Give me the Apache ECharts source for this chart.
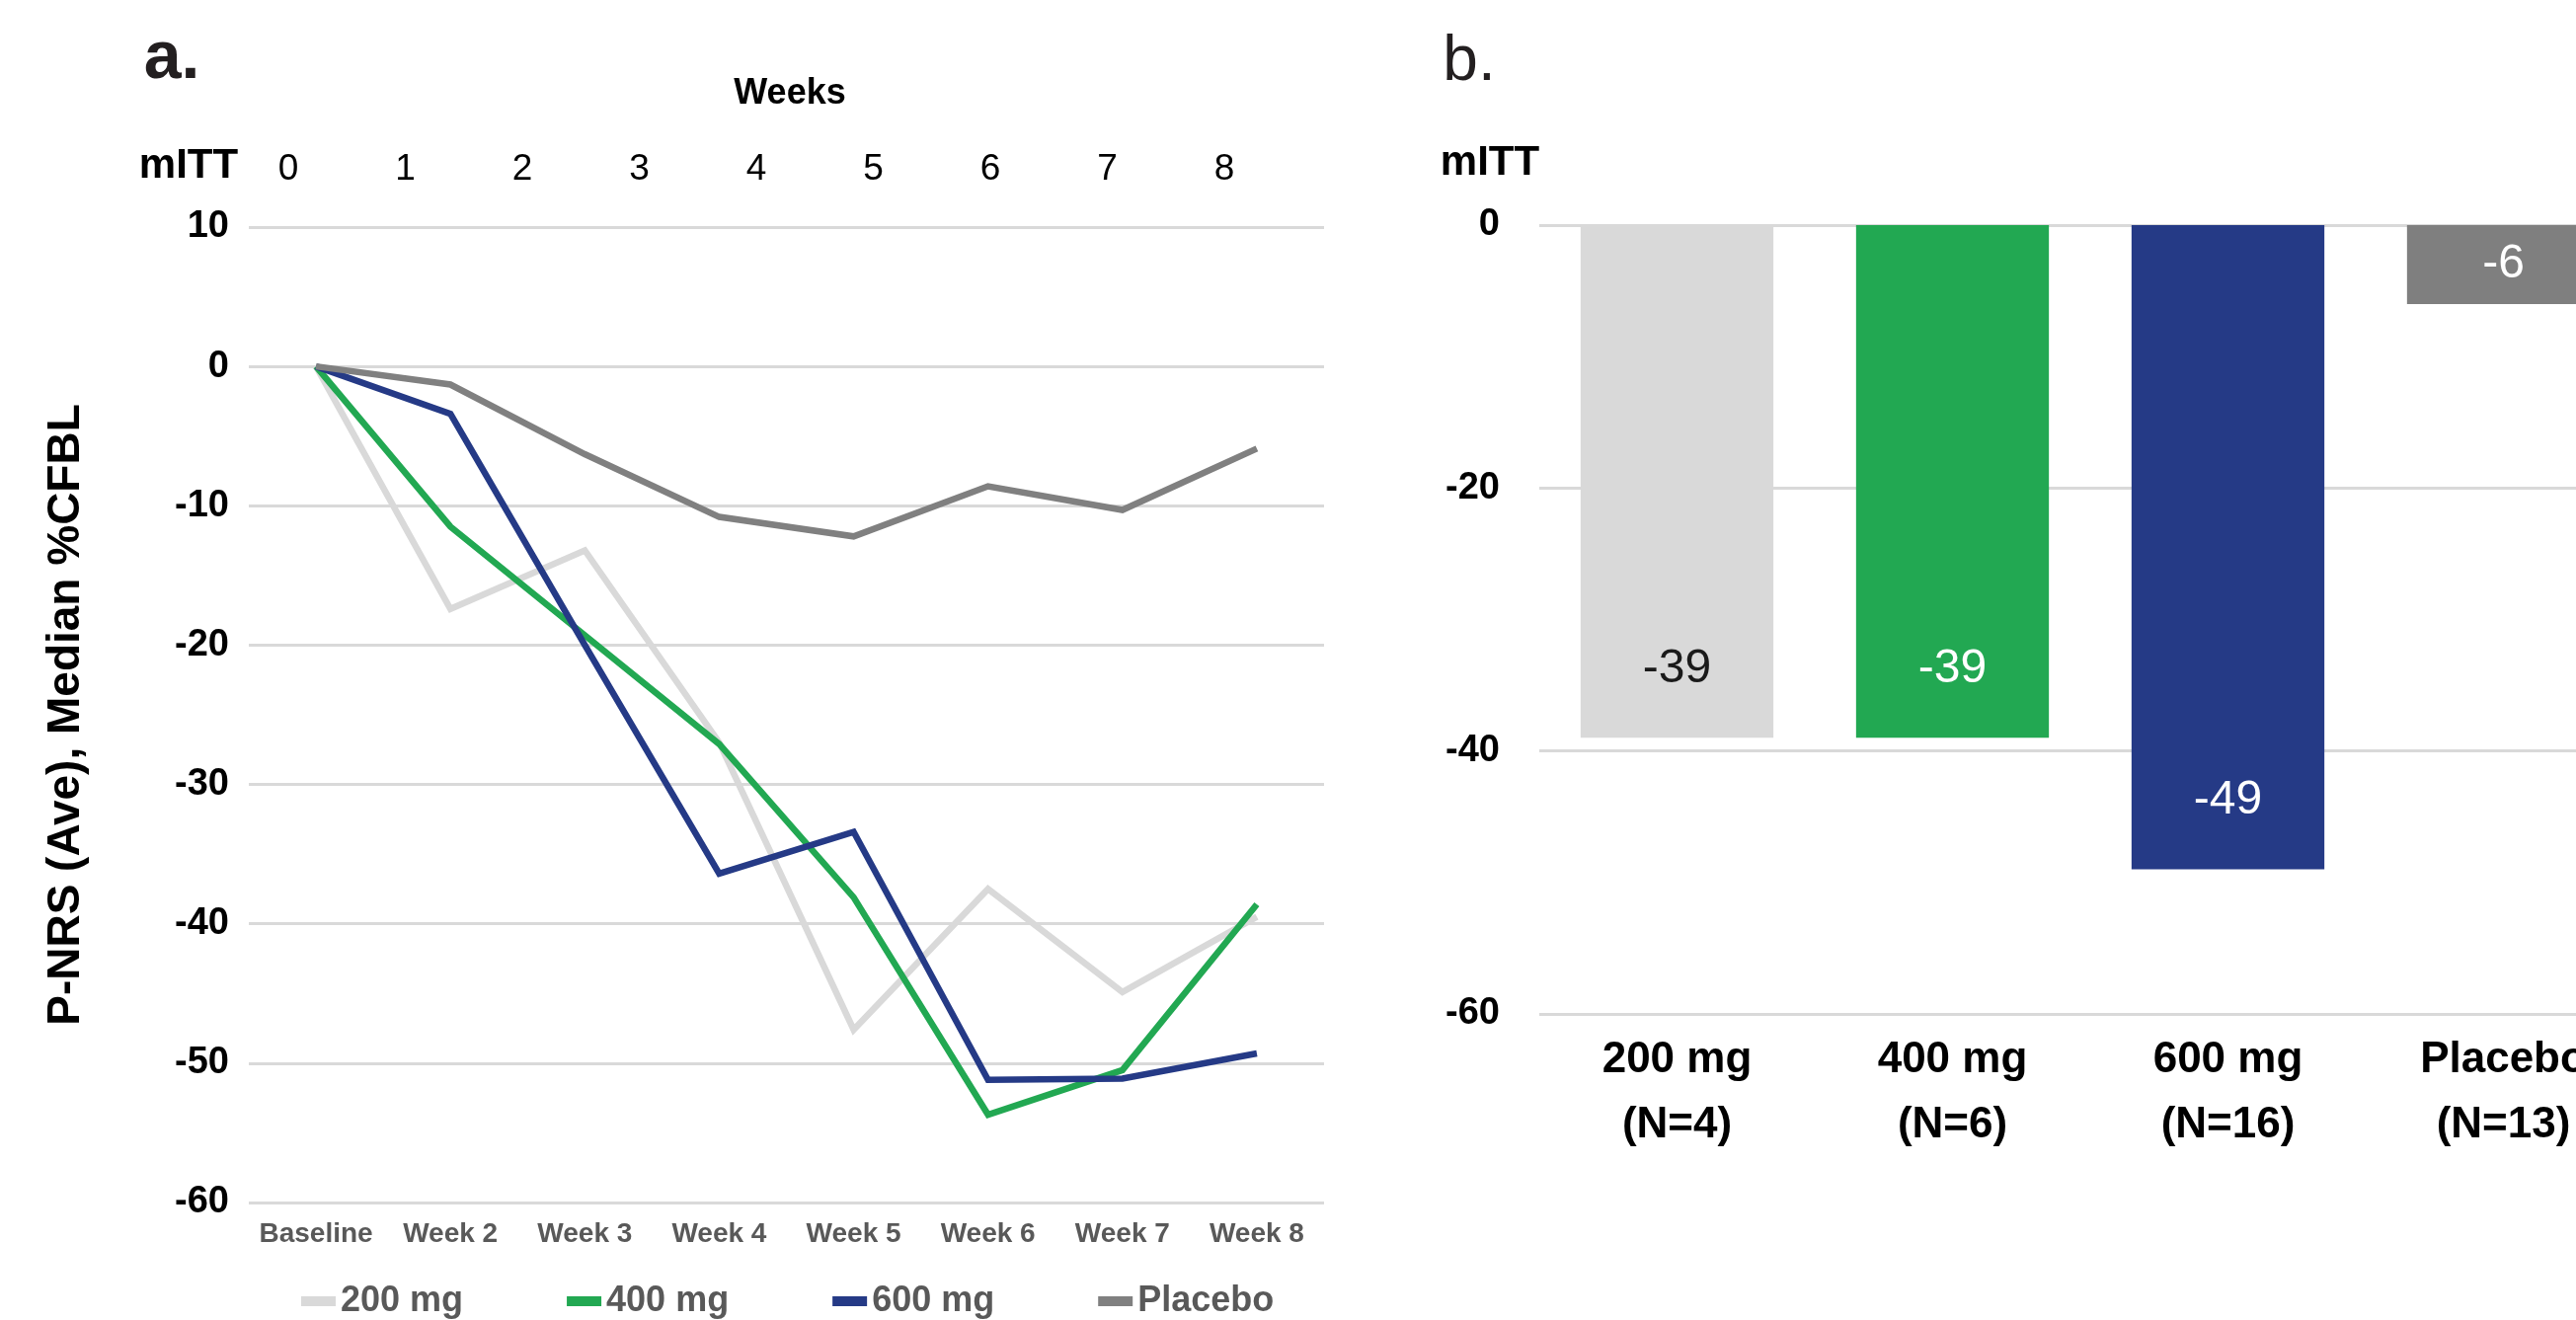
<!DOCTYPE html>
<html><head><meta charset="utf-8">
<script src="https://cdn.jsdelivr.net/npm/echarts@6/dist/echarts.min.js"></script>
<style>html,body{margin:0;padding:0;background:#fff}#c{width:2609px;height:1337px}</style>
</head><body><div id="c"></div>
<script>
// ---- data ----
const weekCategories = ['Baseline', 'Week 2', 'Week 3', 'Week 4', 'Week 5', 'Week 6', 'Week 7', 'Week 8'];
const weekNumbers = ['0', '1', '2', '3', '4', '5', '6', '7', '8'];
const seriesNames = ['200 mg', '400 mg', '600 mg', 'Placebo'];
const mg200 = [0, -17.4, -13.2, -27.0, -47.6, -37.5, -44.9, -39.5];
const mg400 = [0, -11.5, -19.3, -27.1, -38.1, -53.7, -50.5, -38.6];
const mg600 = [0, -3.4, -20.0, -36.4, -33.4, -51.2, -51.1, -49.3];
const placebo = [0, -1.3, -6.3, -10.8, -12.2, -8.6, -10.3, -5.9];
const lineColors = ['#D9D9D9', '#22A852', '#253A86', '#808080'];

const barCategories = ['200 mg', '400 mg', '600 mg', 'Placebo'];
const barN = ['(N=4)', '(N=6)', '(N=16)', '(N=13)'];
const barValues = [-39, -39, -49, -6];
const barColors = ['#D9D9D9', '#22A852', '#253A86', '#7F7F7F'];
const barLabelColors = ['#1A1A1A', '#FFFFFF', '#FFFFFF', '#FFFFFF'];

// ---- chart ----
const FF = 'Liberation Sans';
const chart = echarts.init(document.getElementById('c'));
const lineData = [mg200, mg400, mg600, placebo];
const gridLine = { show: true, lineStyle: { color: '#D9D9D9', width: 3 } };

const option = {
  backgroundColor: '#fff',
  animation: false,
  textStyle: { fontFamily: FF },
  graphic: [
    { type: 'text', x: 174, y: 60, style: { text: 'a.', font: 'bold 68px "Liberation Sans"', fill: '#231F20', align: 'center', verticalAlign: 'middle' } },
    { type: 'text', x: 1488, y: 63, style: { text: 'b.', font: '64px "Liberation Sans"', fill: '#231F20', align: 'center', verticalAlign: 'middle' } },
    { type: 'text', x: 800, y: 95, style: { text: 'Weeks', font: 'bold 36px "Liberation Sans"', fill: '#000', align: 'center', verticalAlign: 'middle' } },
    { type: 'text', x: 191, y: 168, style: { text: 'mITT', font: 'bold 42px "Liberation Sans"', fill: '#000', align: 'center', verticalAlign: 'middle' } },
    { type: 'text', x: 1509, y: 165, style: { text: 'mITT', font: 'bold 42px "Liberation Sans"', fill: '#000', align: 'center', verticalAlign: 'middle' } }
  ],
  legend: {
    data: seriesNames,
    left: 300, top: 1295,
    icon: 'rect', itemWidth: 35, itemHeight: 10, itemGap: 105,
    textStyle: { fontFamily: FF, fontSize: 36, fontWeight: 'bold', color: '#595959' }
  },
  grid: [
    { left: 252, top: 230, width: 1089, height: 988, outerBoundsMode: 'none' },
    { left: 292, top: 230, width: 948, height: 1, outerBoundsMode: 'none' },
    { left: 1559, top: 228, width: 1116, height: 799, outerBoundsMode: 'none' }
  ],
  xAxis: [
    { gridIndex: 0, type: 'category', data: weekCategories, boundaryGap: true,
      axisLine: { show: false }, axisTick: { show: false },
      axisLabel: { fontFamily: FF, fontSize: 28, fontWeight: 'bold', color: '#595959', margin: 18, interval: 0 } },
    { gridIndex: 1, type: 'category', data: weekNumbers, boundaryGap: false, position: 'top',
      axisLine: { show: false }, axisTick: { show: false }, splitLine: { show: false },
      axisLabel: { fontFamily: FF, fontSize: 37, color: '#000', margin: 40, interval: 0 } },
    { gridIndex: 2, type: 'category', data: barCategories.map((c, i) => c + '\n' + barN[i]),
      axisLine: { show: false }, axisTick: { show: false },
      axisLabel: { fontFamily: FF, fontSize: 44, fontWeight: 'bold', color: '#000', lineHeight: 66, margin: 14, interval: 0 } }
  ],
  yAxis: [
    { gridIndex: 0, type: 'value', min: -60, max: 10, interval: 10,
      axisLine: { show: false }, axisTick: { show: false }, splitLine: gridLine,
      axisLabel: { fontFamily: FF, fontSize: 38, fontWeight: 'bold', color: '#000', margin: 20 },
      name: 'P-NRS (Ave), Median %CFBL', nameLocation: 'middle', nameRotate: 90, nameGap: 162,
      nameTextStyle: { fontFamily: FF, fontSize: 46, fontWeight: 'bold', color: '#000' } },
    { gridIndex: 1, type: 'value', show: false },
    { gridIndex: 2, type: 'value', min: -60, max: 0, interval: 20,
      axisLine: { show: false }, axisTick: { show: false }, splitLine: gridLine,
      axisLabel: { fontFamily: FF, fontSize: 38, fontWeight: 'bold', color: '#000', margin: 40 } }
  ],
  series: seriesNames.map((n, i) => ({
    name: n, type: 'line', xAxisIndex: 0, yAxisIndex: 0,
    data: lineData[i], color: lineColors[i],
    showSymbol: false, symbol: 'none',
    lineStyle: { color: lineColors[i], width: 6.5, join: 'miter' },
    z: 2 + i
  })).concat([{
    name: 'mITT', type: 'bar', xAxisIndex: 2, yAxisIndex: 2,
    barCategoryGap: '30%',
    data: barValues.map((v, i) => ({
      value: v,
      itemStyle: { color: barColors[i] },
      label: i === 3 ? { position: 'inside', distance: 0, color: barLabelColors[i] } : { color: barLabelColors[i] }
    })),
    label: { show: true, position: 'insideBottom', distance: 46, fontFamily: FF, fontSize: 48, formatter: '{c}' }
  }])
};
chart.setOption(option);
</script>
</body></html>
